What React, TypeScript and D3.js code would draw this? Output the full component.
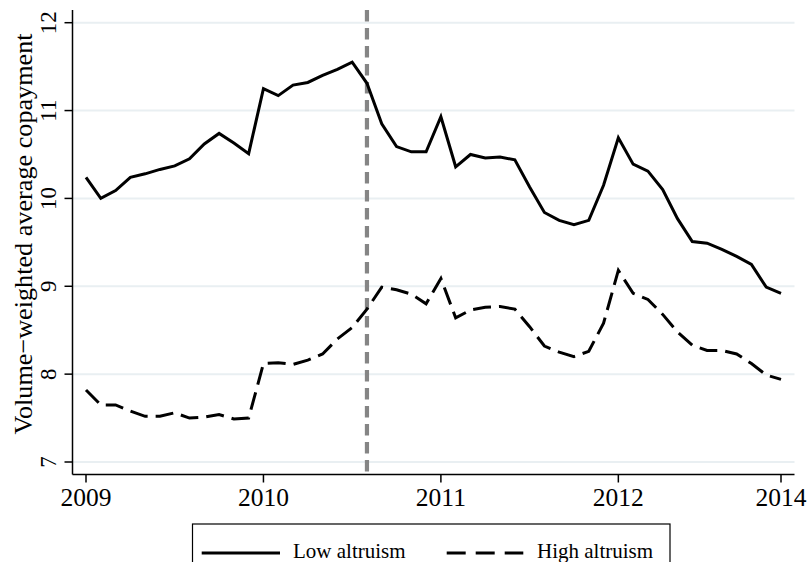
import React from "react";
import * as d3 from "d3";

const months: number[] = Array.from({ length: 48 }, (_, i) => i);
const lowAltruism: number[] = [
  10.24, 10.0, 10.09, 10.24, 10.28, 10.33, 10.37, 10.45, 10.62, 10.74, 10.63, 10.51,
  11.25, 11.17, 11.29, 11.32, 11.4, 11.47, 11.55, 11.31, 10.85, 10.59, 10.53, 10.53,
  10.93, 10.36, 10.5, 10.46, 10.47, 10.44, 10.13, 9.84, 9.75, 9.7, 9.75, 10.15,
  10.69, 10.39, 10.31, 10.1, 9.77, 9.51, 9.49, 9.42, 9.34, 9.25, 8.99, 8.92,
];
const highAltruism: number[] = [
  7.82, 7.65, 7.65, 7.58, 7.52, 7.52, 7.56, 7.5, 7.51, 7.54, 7.49, 7.5,
  8.12, 8.13, 8.11, 8.16, 8.23, 8.4, 8.53, 8.74, 8.99, 8.96, 8.91, 8.8,
  9.09, 8.64, 8.73, 8.76, 8.77, 8.74, 8.54, 8.32, 8.25, 8.2, 8.26, 8.58,
  9.18, 8.92, 8.85, 8.68, 8.48, 8.33, 8.27, 8.27, 8.23, 8.12, 7.99, 7.94,
];
const xTickValues: number[] = [0, 12, 24, 36, 47];
const xTickLabels: string[] = ["2009", "2010", "2011", "2012", "2014"];
const yTickValues: number[] = [7, 8, 9, 10, 11, 12];
const policyMonth = 19;
const yTitle = "Volume\u2212weighted average copayment";
const seriesNames: string[] = ["Low altruism", "High altruism"];

const FONT = "Liberation Serif, Times New Roman, serif";

export default function App() {
  const W = 809;
  const H = 562;
  const left = 72.5;
  const right = 794.5;
  const top = 10;
  const bottom = 474.5;

  const x = d3.scaleLinear().domain([0, 47]).range([86, 781]);
  const y = d3.scaleLinear().domain([7, 12]).range([462, 22.7]);

  const line = d3
    .line<number>()
    .x((_, i) => x(months[i]))
    .y((d) => y(d));

  return (
    <svg
      width={W}
      height={H}
      style={{ position: "absolute", left: 0, top: 0, background: "#fff" }}
    >
      <rect x={0} y={0} width={W} height={H} fill="#fff" />
      {yTickValues.map((v) => (
        <line
          key={"g" + v}
          x1={left}
          x2={right}
          y1={y(v)}
          y2={y(v)}
          stroke="#e9eff2"
          strokeWidth={2}
        />
      ))}
      <line
        x1={x(policyMonth)}
        x2={x(policyMonth)}
        y1={top}
        y2={bottom}
        stroke="#858585"
        strokeWidth={4.2}
        strokeDasharray="11.5 6.5"
      />
      <path
        d={line(lowAltruism) || ""}
        fill="none"
        stroke="#000"
        strokeWidth={3}
      />
      <path
        d={line(highAltruism) || ""}
        fill="none"
        stroke="#000"
        strokeWidth={3}
        strokeDasharray="18 8"
      />
      <line x1={left} x2={left} y1={top} y2={bottom} stroke="#000" strokeWidth={1.5} />
      <line x1={left} x2={right} y1={bottom} y2={bottom} stroke="#000" strokeWidth={1.5} />
      {yTickValues.map((v) => (
        <g key={"yt" + v}>
          <line x1={left - 8} x2={left} y1={y(v)} y2={y(v)} stroke="#000" strokeWidth={1.5} />
          <text
            transform={`translate(56,${y(v)}) rotate(-90)`}
            textAnchor="middle"
            fontFamily={FONT}
            fontSize={23}
            fill="#000"
          >
            {v}
          </text>
        </g>
      ))}
      {xTickValues.map((v, i) => (
        <g key={"xt" + v}>
          <line x1={x(v)} x2={x(v)} y1={bottom} y2={bottom + 8} stroke="#000" strokeWidth={1.5} />
          <text
            x={x(v)}
            y={506}
            textAnchor="middle"
            fontFamily={FONT}
            fontSize={25.5}
            fill="#000"
          >
            {xTickLabels[i]}
          </text>
        </g>
      ))}
      <text
        transform={`translate(32,234) rotate(-90)`}
        textAnchor="middle"
        fontFamily={FONT}
        fontSize={26.2}
        fill="#000"
      >
        {yTitle}
      </text>
      <rect x={192.5} y={524} width={477.5} height={60} fill="#fff" stroke="#000" strokeWidth={1.2} />
      <line x1={201.7} x2={280} y1={553} y2={553} stroke="#000" strokeWidth={3} />
      <text x={293} y={558} fontFamily={FONT} fontSize={21} fill="#000">
        {seriesNames[0]}
      </text>
      <line
        x1={446.7}
        x2={523.3}
        y1={553}
        y2={553}
        stroke="#000"
        strokeWidth={3}
        strokeDasharray="19 10"
      />
      <text x={537} y={558} fontFamily={FONT} fontSize={21} fill="#000">
        {seriesNames[1]}
      </text>
    </svg>
  );
}
